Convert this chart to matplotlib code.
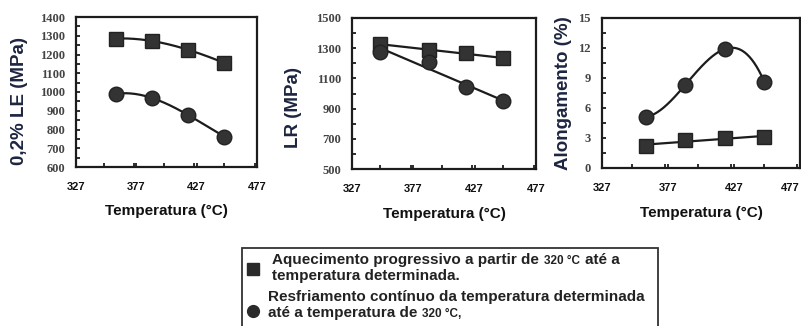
import numpy as np
import matplotlib
matplotlib.use("Agg")
import matplotlib.pyplot as plt
from matplotlib.patches import Rectangle
from matplotlib.lines import Line2D
from matplotlib.ticker import MultipleLocator, FixedLocator

# temperatures (°C) of the four test conditions
temps = [360, 390, 420, 450]
temps_lr = [350, 390, 420, 450]

# 0,2% yield strength (MPa)
le_heat = [1285, 1272, 1225, 1155]
le_cool = [990, 968, 877, 762]

# tensile strength (MPa)
lr_heat = [1325, 1290, 1268, 1232]
lr_cool = [1278, 1210, 1040, 948]

# elongation (%)
al_heat = [2.2, 2.8, 3.0, 3.1]
al_cool = [5.1, 8.3, 11.9, 8.6]

x_ticks = [327, 377, 427, 477]

W, H = 801, 326
fig = plt.figure(figsize=(W / 100, H / 100), dpi=100)

ink = "#1c1c1c"
mark = "#333333"
label_col = "#1d2540"
sans = "Liberation Sans"
serif = "Liberation Serif"


def panel(rect, ylim, ymajor, yminor, ylabel, ylab_x, ylab_y):
    ax = fig.add_axes(rect)
    ax.set_xlim(327, 477)
    ax.set_ylim(*ylim)
    ax.xaxis.set_major_locator(FixedLocator(x_ticks))
    ax.xaxis.set_minor_locator(MultipleLocator(25))
    ax.yaxis.set_major_locator(FixedLocator(np.arange(ylim[0], ylim[1] + ymajor / 2, ymajor)))
    ax.yaxis.set_minor_locator(FixedLocator(np.arange(ylim[0], ylim[1] + yminor / 2, yminor)))
    for s in ax.spines.values():
        s.set_linewidth(1.6)
        s.set_color(ink)
    ax.tick_params(which="both", direction="in", length=3, width=1.3, color=ink,
                   top=False, right=False)
    ax.tick_params(axis="x", pad=11)
    ax.tick_params(axis="y", pad=8)
    for t in ax.get_xticklabels():
        t.set_fontfamily(sans)
        t.set_fontweight("bold")
        t.set_fontsize(8)
        t.set_color("#111111")
    for t in ax.get_yticklabels():
        t.set_fontfamily(serif)
        t.set_fontweight("bold")
        t.set_fontsize(9)
        t.set_color("#444444")
    ax.set_xlabel("Temperatura (°C)", fontfamily=sans, fontweight="bold",
                  fontsize=11, color="#111111")
    ax.xaxis.set_label_coords(0.5, -0.25)
    ax.set_ylabel(ylabel, fontfamily=sans, fontweight="bold", fontsize=13.5,
                  color=label_col)
    ax.yaxis.set_label_coords(ylab_x, ylab_y)
    return ax


def smooth(ax, x, y):
    # cubic passing through the four measured points
    c = np.polyfit(x, y, 3)
    xs = np.linspace(x[0], x[-1], 200)
    ax.plot(xs, np.polyval(c, xs), color=ink, lw=1.6, zorder=2)


def trend(ax, x, y):
    c = np.polyfit(x, y, 1)
    xs = np.array([x[0], x[-1]])
    ax.plot(xs, np.polyval(c, xs), color=ink, lw=1.6, zorder=2)


def points(ax, x, y, m):
    ax.plot(x, y, ls="none", marker=m, ms=10 if m == "s" else 10.5,
            mfc=mark, mec="#222222", mew=1.0, zorder=3, clip_on=False)


# yield strength
ax1 = panel([76 / W, 1 - 167 / H, 181 / W, 150 / H], (600, 1400), 100, 50,
            "0,2% LE (MPa)", -0.265, 0.44)
smooth(ax1, temps, le_heat)
smooth(ax1, temps, le_cool)
points(ax1, temps, le_heat, "s")
points(ax1, temps, le_cool, "o")

# tensile strength
ax2 = panel([352 / W, 1 - 169 / H, 184 / W, 151 / H], (500, 1500), 200, 100,
            "LR (MPa)", -0.27, 0.41)
trend(ax2, temps_lr, lr_heat)
trend(ax2, temps_lr, lr_cool)
points(ax2, temps_lr, lr_heat, "s")
points(ax2, temps_lr, lr_cool, "o")

# elongation
ax3 = panel([602 / W, 1 - 168 / H, 198 / W, 150 / H], (0, 15), 3, 1.5,
            "Alongamento (%)", -0.15, 0.5)
smooth(ax3, temps, al_cool)
trend(ax3, temps, al_heat)
points(ax3, temps, al_heat, "s")
points(ax3, temps, al_cool, "o")
# keep the last tick label inside the figure
ax3.get_xticklabels()[-1].set_horizontalalignment("right")

# legend box running off the bottom edge
fig.add_artist(Rectangle((242 / W, -10 / H), (658 - 242) / W, (H + 10 - 248) / H,
                         transform=fig.transFigure, fill=False, lw=1.3,
                         ec="#333333"))
fig.add_artist(Line2D([253 / W], [1 - 269 / H], marker="s", ms=8, mfc="#2a2a2a",
                      mec="#2a2a2a", transform=fig.transFigure))
fig.add_artist(Line2D([253 / W], [1 - 311 / H], marker="o", ms=8.5, mfc="#2a2a2a",
                      mec="#2a2a2a", transform=fig.transFigure))

fig.canvas.draw()
renderer = fig.canvas.get_renderer()


def text_run(x, y, parts):
    for s, size in parts:
        t = fig.text(x / W, 1 - y / H, s, fontsize=size, fontfamily=sans,
                     fontweight="bold", color="#222222", va="baseline")
        bb = t.get_window_extent(renderer)
        x = bb.x1 + 5


text_run(272, 264, [("Aquecimento progressivo a partir de", 11), ("320 °C", 8.5),
                    ("até a", 11)])
text_run(272, 280, [("temperatura determinada.", 11)])
text_run(268, 301, [("Resfriamento contínuo da temperatura determinada", 11)])
text_run(268, 317, [("até a temperatura de", 11), ("320 °C,", 8.5)])

fig.savefig("out.png", dpi=100)
